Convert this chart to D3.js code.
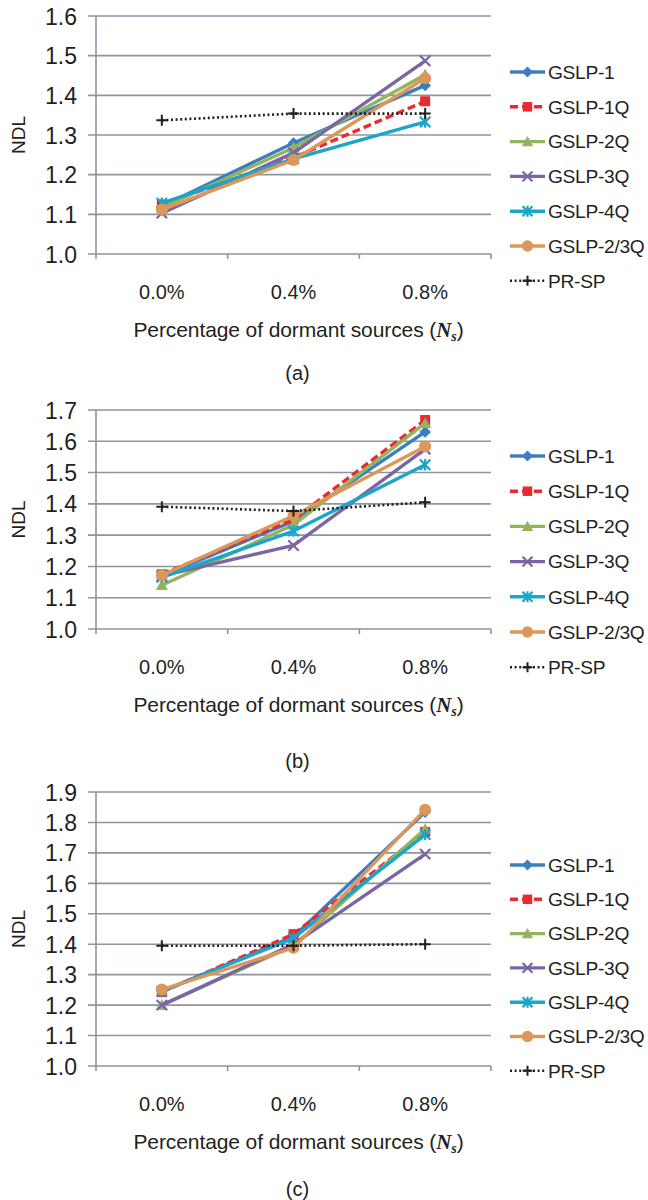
<!DOCTYPE html>
<html>
<head>
<meta charset="utf-8">
<script src="https://cdn.jsdelivr.net/npm/d3@7/dist/d3.min.js"></script>
<style>
  html, body { margin: 0; padding: 0; background: #fff; }
  svg { display: block; }
  text { font-family: "Liberation Sans", Arial, sans-serif; fill: #231f20; }
</style>
</head>
<body>
<svg id="chart" width="648" height="1200"></svg>
<script>
// Categories on the x axis
const categories = ["0.0%", "0.4%", "0.8%"];

// Series names (legend order = drawing order)
const seriesNames = ["GSLP-1", "GSLP-1Q", "GSLP-2Q", "GSLP-3Q", "GSLP-4Q", "GSLP-2/3Q", "PR-SP"];

// Panel (a) NDL values per series
const ndlA_gslp1  = [1.120, 1.280, 1.425];
const ndlA_gslp1q = [1.125, 1.243, 1.385];
const ndlA_gslp2q = [1.117, 1.268, 1.452];
const ndlA_gslp3q = [1.103, 1.255, 1.487];
const ndlA_gslp4q = [1.128, 1.240, 1.333];
const ndlA_gslp23 = [1.112, 1.237, 1.443];
const ndlA_prsp   = [1.337, 1.354, 1.354];

// Panel (b) NDL values per series
const ndlB_gslp1  = [1.170, 1.345, 1.630];
const ndlB_gslp1q = [1.175, 1.350, 1.668];
const ndlB_gslp2q = [1.140, 1.333, 1.658];
const ndlB_gslp3q = [1.170, 1.267, 1.575];
const ndlB_gslp4q = [1.165, 1.313, 1.525];
const ndlB_gslp23 = [1.172, 1.362, 1.583];
const ndlB_prsp   = [1.391, 1.377, 1.405];

// Panel (c) NDL values per series
const ndlC_gslp1  = [1.245, 1.425, 1.834];
const ndlC_gslp1q = [1.243, 1.433, 1.769];
const ndlC_gslp2q = [1.200, 1.395, 1.778];
const ndlC_gslp3q = [1.200, 1.400, 1.696];
const ndlC_gslp4q = [1.245, 1.420, 1.760];
const ndlC_gslp23 = [1.251, 1.388, 1.842];
const ndlC_prsp   = [1.395, 1.395, 1.400];

// Y tick labels per panel
const yTicksA = ["1.0", "1.1", "1.2", "1.3", "1.4", "1.5", "1.6"];
const yTicksB = ["1.0", "1.1", "1.2", "1.3", "1.4", "1.5", "1.6", "1.7"];
const yTicksC = ["1.0", "1.1", "1.2", "1.3", "1.4", "1.5", "1.6", "1.7", "1.8", "1.9"];

const panelLabels = ["(a)", "(b)", "(c)"];

// Visual style for each series
const styles = {
  "GSLP-1":    { color: "#3b7fc0", marker: "diamond",  dash: null },
  "GSLP-1Q":   { color: "#ea2a2e", marker: "square",   dash: "8,4" },
  "GSLP-2Q":   { color: "#93b45c", marker: "triangle", dash: null },
  "GSLP-3Q":   { color: "#7b66a3", marker: "cross",    dash: null },
  "GSLP-4Q":   { color: "#1ba5cb", marker: "star",     dash: null },
  "GSLP-2/3Q": { color: "#dc975b", marker: "circle",   dash: null },
  "PR-SP":     { color: "#231f20", marker: "plus",     dash: "2,2.6" }
};

const panels = [
  { label: panelLabels[0], ticks: yTicksA, top: 16,  bottom: 254,
    legendTop: 72, legendStep: 34.8, captionDy: 120,
    values: [ndlA_gslp1, ndlA_gslp1q, ndlA_gslp2q, ndlA_gslp3q, ndlA_gslp4q, ndlA_gslp23, ndlA_prsp] },
  { label: panelLabels[1], ticks: yTicksB, top: 410, bottom: 629,
    legendTop: 456, legendStep: 35.2, captionDy: 133,
    values: [ndlB_gslp1, ndlB_gslp1q, ndlB_gslp2q, ndlB_gslp3q, ndlB_gslp4q, ndlB_gslp23, ndlB_prsp] },
  { label: panelLabels[2], ticks: yTicksC, top: 792, bottom: 1066,
    legendTop: 865, legendStep: 34.3, captionDy: 124,
    values: [ndlC_gslp1, ndlC_gslp1q, ndlC_gslp2q, ndlC_gslp3q, ndlC_gslp4q, ndlC_gslp23, ndlC_prsp] }
];

const svg = d3.select("#chart");
const plotLeft = 96, plotRight = 491;
const gridColor = "#8e959c";

function drawMarker(g, type, cx, cy, color, scale) {
  const s = scale || 1;
  if (type === "diamond") {
    const r = 5.8 * s;
    g.append("path").attr("d", `M${cx},${cy - r}L${cx + r},${cy}L${cx},${cy + r}L${cx - r},${cy}Z`).attr("fill", color);
  } else if (type === "square") {
    const r = 5 * s;
    g.append("rect").attr("x", cx - r).attr("y", cy - r).attr("width", 2 * r).attr("height", 2 * r).attr("fill", color);
  } else if (type === "triangle") {
    const r = 6 * s;
    g.append("path").attr("d", `M${cx},${cy - r}L${cx + r},${cy + r * 0.8}L${cx - r},${cy + r * 0.8}Z`).attr("fill", color);
  } else if (type === "circle") {
    g.append("circle").attr("cx", cx).attr("cy", cy).attr("r", 6 * s).attr("fill", color);
  } else if (type === "cross") {
    const r = 5.2 * s;
    g.append("path").attr("d", `M${cx - r},${cy - r}L${cx + r},${cy + r}M${cx - r},${cy + r}L${cx + r},${cy - r}`)
      .attr("stroke", color).attr("stroke-width", 2.2).attr("fill", "none");
  } else if (type === "star") {
    const r = 5.2 * s;
    g.append("path").attr("d", `M${cx - r},${cy - r}L${cx + r},${cy + r}M${cx - r},${cy + r}L${cx + r},${cy - r}M${cx},${cy - r * 1.1}L${cx},${cy + r * 1.1}`)
      .attr("stroke", color).attr("stroke-width", 2.2).attr("fill", "none");
  } else if (type === "plus") {
    const r = 5.5 * s;
    g.append("path").attr("d", `M${cx - r},${cy}L${cx + r},${cy}M${cx},${cy - r}L${cx},${cy + r}`)
      .attr("stroke", color).attr("stroke-width", 2).attr("fill", "none");
  }
}

panels.forEach(p => {
  const g = svg.append("g");
  const maxV = +p.ticks[p.ticks.length - 1];
  const y = d3.scaleLinear().domain([1.0, maxV]).range([p.bottom, p.top]);
  const x = d3.scaleBand().domain(categories).range([plotLeft, plotRight]).padding(0);
  const xc = c => x(c) + x.bandwidth() / 2;
  const tickVals = p.ticks.map(Number);

  // Horizontal gridlines (extend a little left of the axis, like tick marks)
  g.append("g").selectAll("line").data(tickVals).join("line")
    .attr("x1", plotLeft - 8).attr("x2", plotRight)
    .attr("y1", d => y(d)).attr("y2", d => y(d))
    .attr("stroke", gridColor).attr("stroke-width", 1.6);

  // Vertical axis line
  g.append("line").attr("x1", plotLeft).attr("x2", plotLeft)
    .attr("y1", p.top).attr("y2", p.bottom + 5)
    .attr("stroke", gridColor).attr("stroke-width", 1.6);

  // Category boundary ticks below the x axis
  const bounds = categories.map(c => x(c)).concat([x(categories[categories.length - 1]) + x.bandwidth()]);
  g.append("g").selectAll("line").data(bounds.slice(1)).join("line")
    .attr("x1", d => d).attr("x2", d => d)
    .attr("y1", p.bottom).attr("y2", p.bottom + 5)
    .attr("stroke", gridColor).attr("stroke-width", 1.6);

  // Y tick labels via d3 axis
  const yAxis = g.append("g").attr("transform", `translate(${plotLeft - 19},0)`)
    .call(d3.axisLeft(y).tickValues(tickVals).tickSize(0).tickPadding(0).tickFormat(d3.format(".1f")));
  yAxis.select(".domain").remove();
  yAxis.selectAll("text").attr("font-size", 23).attr("font-family", "Liberation Sans, Arial, sans-serif")
    .attr("fill", "#231f20").attr("dy", "0.35em");

  // X tick labels via d3 axis
  const xAxis = g.append("g").attr("transform", `translate(0,${p.bottom + 31})`)
    .call(d3.axisBottom(x).tickSize(0).tickPadding(0));
  xAxis.select(".domain").remove();
  xAxis.selectAll("text").attr("font-size", 20).attr("font-family", "Liberation Sans, Arial, sans-serif")
    .attr("fill", "#231f20");

  // Y axis title
  g.append("text")
    .attr("transform", `translate(25,${(p.top + p.bottom) / 2}) rotate(-90)`)
    .attr("text-anchor", "middle").attr("font-size", 19).text("NDL");

  // X axis title
  const xt = g.append("text").attr("x", (plotLeft + plotRight) / 2 + 5).attr("y", p.bottom + 83)
    .attr("text-anchor", "middle").attr("font-size", 21).attr("letter-spacing", -0.1);
  xt.append("tspan").text("Percentage of dormant sources (");
  xt.append("tspan").attr("font-family", "Liberation Serif, Times New Roman, serif")
    .attr("font-style", "italic").attr("font-weight", "bold").text("N");
  xt.append("tspan").attr("font-family", "Liberation Serif, Times New Roman, serif")
    .attr("font-style", "italic").attr("font-weight", "bold").attr("font-size", 14)
    .attr("dy", 4).text("s");
  xt.append("tspan").attr("dy", -4).text(")");

  // Panel caption
  g.append("text").attr("x", (plotLeft + plotRight) / 2 + 4).attr("y", p.bottom + p.captionDy + 6)
    .attr("text-anchor", "middle").attr("font-size", 20)
    .attr("font-family", "Liberation Serif, Times New Roman, serif").text(p.label);

  // Series lines and markers
  const line = d3.line().x((d, i) => xc(categories[i])).y(d => y(d));
  seriesNames.forEach((name, si) => {
    const st = styles[name];
    const vals = p.values[si];
    const sg = g.append("g");
    sg.append("path").datum(vals).attr("d", line)
      .attr("fill", "none").attr("stroke", st.color)
      .attr("stroke-width", name === "PR-SP" ? 2.6 : 3.4)
      .attr("stroke-dasharray", st.dash)
      .attr("stroke-linejoin", "round");
    vals.forEach((v, i) => drawMarker(sg, st.marker, xc(categories[i]), y(v), st.color));
  });

  // Legend
  const lg = g.append("g");
  seriesNames.forEach((name, si) => {
    const st = styles[name];
    const ly = p.legendTop + si * p.legendStep;
    const ig = lg.append("g");
    if (name === "PR-SP") {
      ig.append("line").attr("x1", 510).attr("x2", 545).attr("y1", ly).attr("y2", ly)
        .attr("stroke", st.color).attr("stroke-width", 2.6).attr("stroke-dasharray", st.dash);
      drawMarker(ig, st.marker, 527.5, ly, st.color, 0.9);
    } else {
      ig.append("line").attr("x1", 510).attr("x2", 545).attr("y1", ly).attr("y2", ly)
        .attr("stroke", st.color).attr("stroke-width", 3.4).attr("stroke-dasharray", st.dash);
      drawMarker(ig, st.marker, 527.5, ly, st.color, 0.95);
    }
    ig.append("text").attr("x", 548).attr("y", ly).attr("dy", "0.35em")
      .attr("font-size", 19.2).attr("letter-spacing", -0.3).text(name);
  });
});
</script>
</body>
</html>
